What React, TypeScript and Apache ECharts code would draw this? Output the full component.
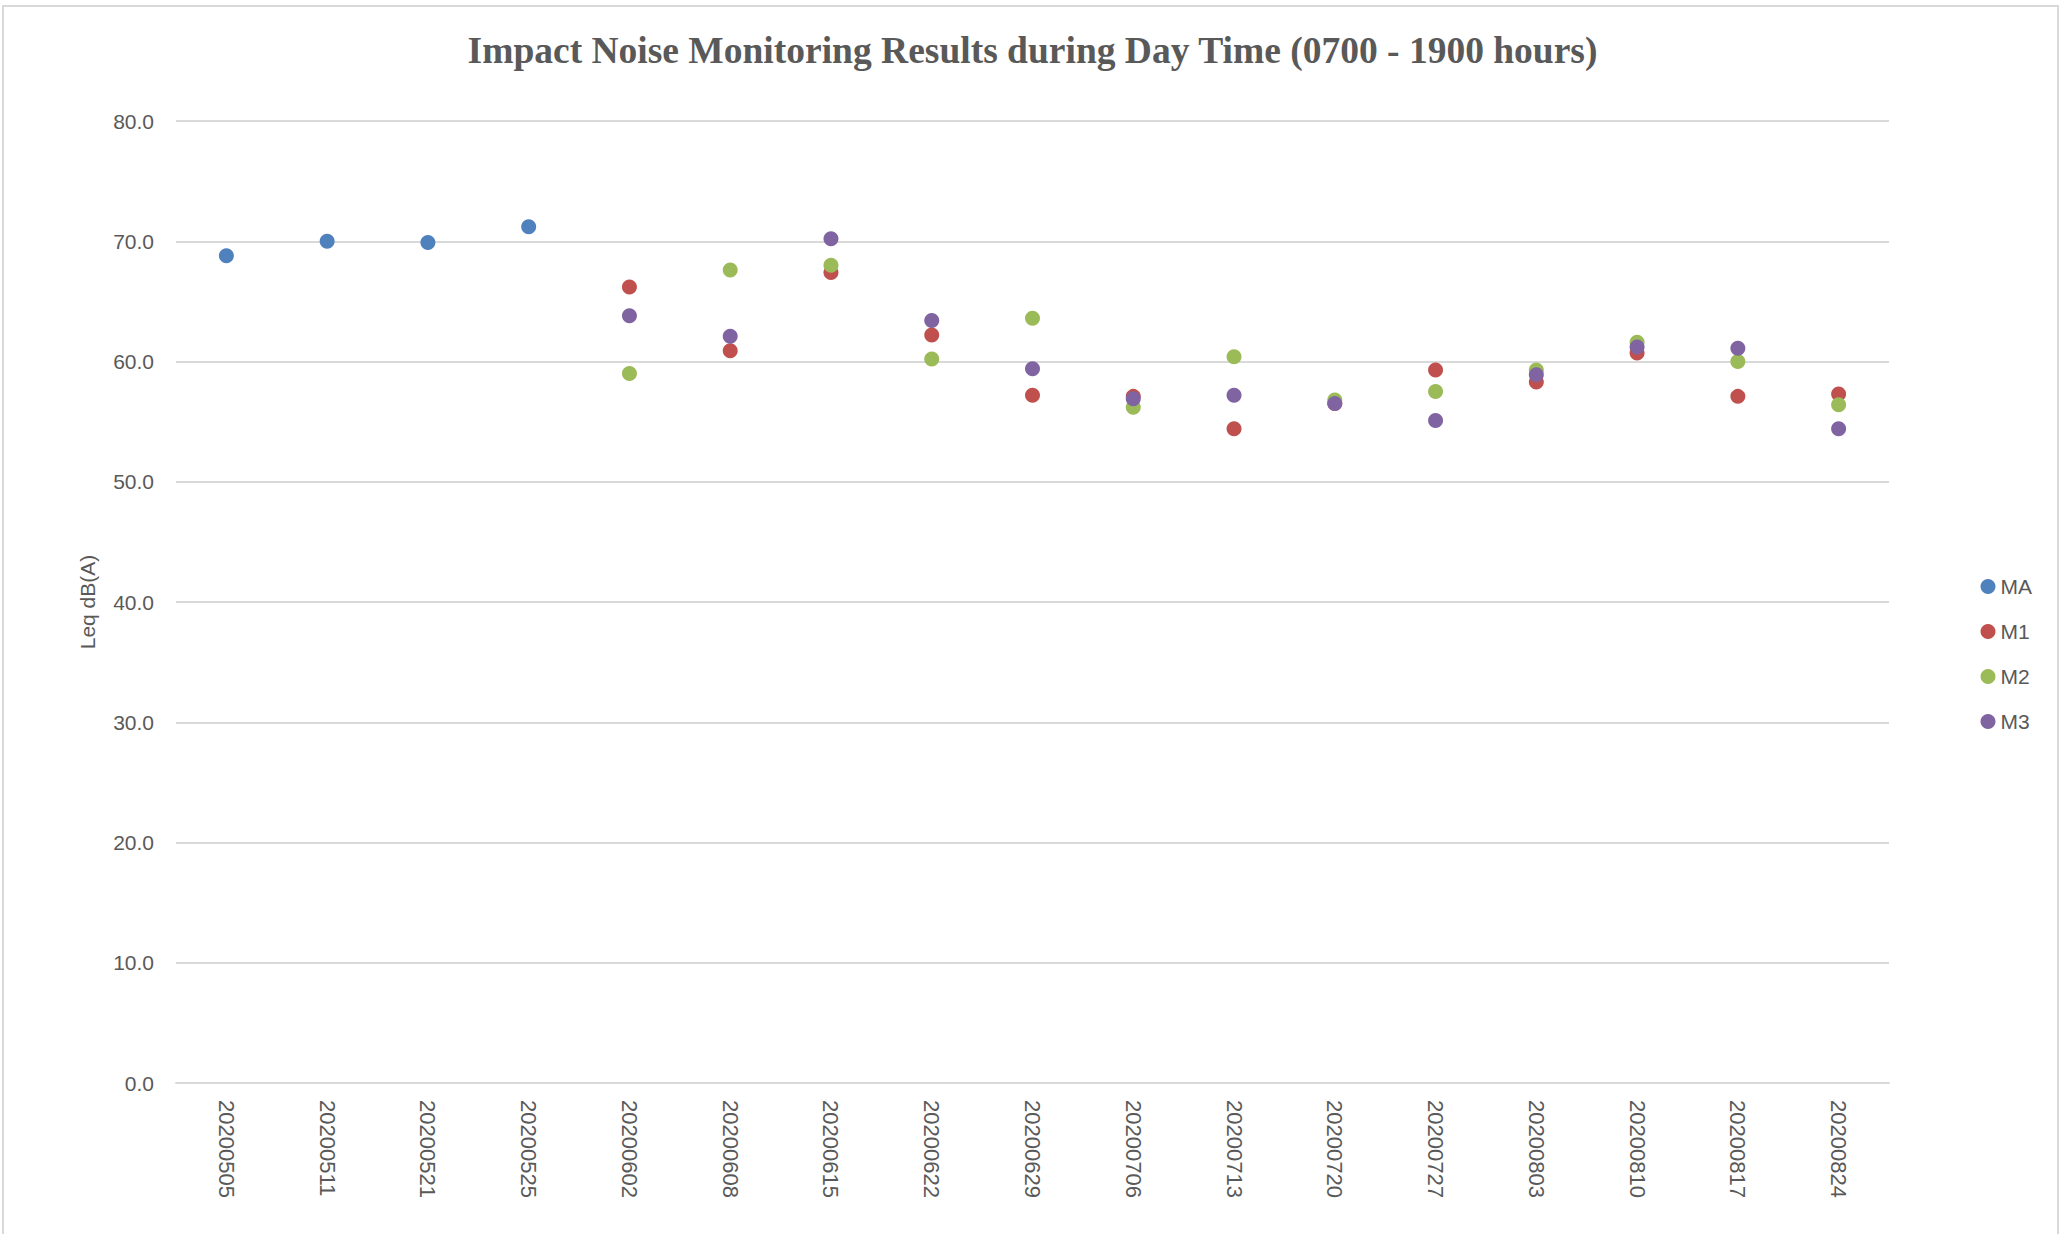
import React, { useEffect, useRef } from "react";
import * as echarts from "echarts";

const categories = [
  "20200505", "20200511", "20200521", "20200525", "20200602", "20200608",
  "20200615", "20200622", "20200629", "20200706", "20200713", "20200720",
  "20200727", "20200803", "20200810", "20200817", "20200824",
];

const seriesNames = ["MA", "M1", "M2", "M3"];
const colors = ["#4F81BD", "#C0504D", "#9BBB59", "#8064A2"];

const MA = [68.8, 70.0, 69.9, 71.2, null, null, null, null, null, null, null, null, null, null, null, null, null];
const M1 = [null, null, null, null, 66.2, 60.9, 67.4, 62.2, 57.2, 57.1, 54.4, 56.5, 59.3, 58.3, 60.7, 57.1, 57.3];
const M2 = [null, null, null, null, 59.0, 67.6, 68.0, 60.2, 63.6, 56.2, 60.4, 56.8, 57.5, 59.3, 61.6, 60.0, 56.4];
const M3 = [null, null, null, null, 63.8, 62.1, 70.2, 63.4, 59.4, 56.9, 57.2, 56.5, 55.1, 58.9, 61.2, 61.1, 54.4];

const seriesData = [MA, M1, M2, M3];

const yTicks = { min: 0, max: 80, interval: 10 };

export default function App() {
  const ref = useRef<HTMLDivElement>(null);

  useEffect(() => {
    document.body.style.margin = "0";
    const chart = echarts.init(ref.current!, undefined, { renderer: "svg" });
    chart.setOption({
      animation: false,
      backgroundColor: "#ffffff",
      title: {
        text: "Impact Noise Monitoring Results during Day Time (0700 - 1900 hours)",
        left: "center",
        top: 26,
        textStyle: {
          fontFamily: "Liberation Serif, serif",
          fontWeight: "bold",
          fontSize: 37.5,
          color: "#595959",
        },
      },
      legend: {
        orient: "vertical",
        right: 28,
        top: 571,
        itemGap: 24,
        icon: "circle",
        itemWidth: 15,
        itemHeight: 15,
        data: seriesNames,
        textStyle: {
          fontFamily: "Liberation Sans, sans-serif",
          fontSize: 21,
          color: "#595959",
          padding: [0, 0, 0, 0],
        },
      },
      graphic: [
        {
          type: "rect",
          shape: { x: 3, y: 6, width: 2055, height: 1240 },
          style: { fill: "none", stroke: "#D9D9D9", lineWidth: 2 },
          silent: true,
        },
      ],
      grid: {
        left: 176,
        right: 176,
        top: 121,
        bottom: 151,
        containLabel: false,
      },
      xAxis: {
        type: "category",
        data: categories,
        boundaryGap: true,
        axisLine: { show: true, lineStyle: { color: "#D9D9D9", width: 2 } },
        axisTick: { show: false },
        axisLabel: {
          rotate: -90,
          margin: 17,
          interval: 0,
          fontFamily: "Liberation Sans, sans-serif",
          fontSize: 22,
          color: "#595959",
        },
        splitLine: { show: false },
      },
      yAxis: {
        type: "value",
        min: yTicks.min,
        max: yTicks.max,
        interval: yTicks.interval,
        name: "Leq dB(A)",
        nameLocation: "middle",
        nameGap: 78,
        nameRotate: 90,
        nameTextStyle: {
          fontFamily: "Liberation Sans Narrow, Liberation Sans, sans-serif",
          fontSize: 21,
          color: "#595959",
        },
        axisLine: { show: false },
        axisTick: { show: false },
        axisLabel: {
          margin: 22,
          fontFamily: "Liberation Sans, sans-serif",
          fontSize: 21,
          color: "#595959",
          formatter: (v: number) => v.toFixed(1),
        },
        splitLine: { show: true, lineStyle: { color: "#D9D9D9", width: 2 } },
      },
      series: seriesNames.map((name, i) => ({
        name,
        type: "scatter",
        data: seriesData[i],
        symbol: "circle",
        symbolSize: 15,
        itemStyle: { color: colors[i], opacity: 1 },
        z: 2 + i,
      })),
    });
    return () => chart.dispose();
  }, []);

  return (
    <div
      ref={ref}
      style={{ position: "fixed", left: 0, top: 0, width: 2065, height: 1234 }}
    />
  );
}
